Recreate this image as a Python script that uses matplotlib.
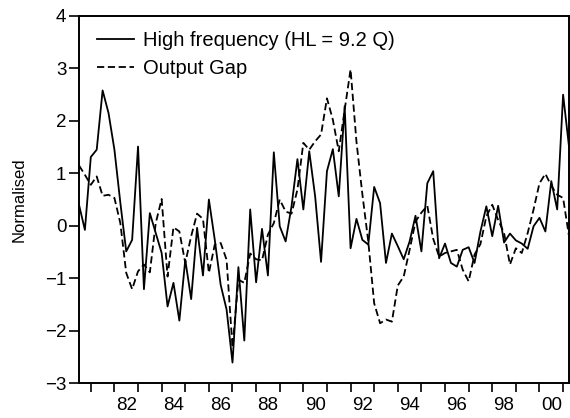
import numpy as np
import matplotlib
matplotlib.use("Agg")
import matplotlib.pyplot as plt
from matplotlib.ticker import FixedLocator, NullFormatter

plt.rcParams['font.family'] = ['Liberation Sans', 'DejaVu Sans']

# quarterly sample, 1980Q3 - 2001Q2
start_year = 1980.5
n_obs = 84

high_freq = [0.40, -0.08, 1.31, 1.45, 2.58, 2.15, 1.45, 0.44, -0.49, -0.27,
             1.51, -1.21, 0.24, -0.14, -0.52, -1.54, -1.09, -1.81, -0.65, -1.40,
             -0.04, -0.95, 0.50, -0.27, -1.13, -1.60, -2.61, -0.79, -2.19, 0.31,
             -1.08, -0.06, -0.95, 1.40, -0.01, -0.30, 0.37, 1.27, 0.31, 1.42,
             0.56, -0.69, 1.04, 1.46, 0.56, 2.28, -0.43, 0.13, -0.27, -0.36,
             0.74, 0.43, -0.71, -0.15, -0.39, -0.64, -0.30, 0.19, -0.49, 0.81,
             1.04, -0.62, -0.34, -0.71, -0.78, -0.46, -0.41, -0.71, -0.11, 0.37,
             -0.20, 0.38, -0.32, -0.15, -0.28, -0.34, -0.44, -0.01, 0.15, -0.11,
             0.85, 0.31, 2.50, 1.51]

output_gap = [1.15, 0.97, 0.78, 0.94, 0.57, 0.59, 0.53, 0.05, -0.90, -1.21,
              -0.87, -0.74, -0.89, 0.05, 0.51, -0.97, -0.03, -0.11, -0.71, -0.20,
              0.23, 0.13, -0.90, -0.36, -0.33, -0.65, -2.32, -1.03, -1.09, -0.53,
              -0.64, -0.66, -0.17, 0.05, 0.50, 0.27, 0.23, 0.69, 1.58, 1.45,
              1.61, 1.74, 2.43, 2.02, 1.42, 2.21, 2.98, 1.60, 0.60, -0.30,
              -1.48, -1.86, -1.79, -1.83, -1.14, -0.97, -0.46, 0.08, 0.25, 0.38,
              -0.25, -0.59, -0.52, -0.49, -0.46, -0.84, -1.06, -0.55, -0.35, 0.18,
              0.40, 0.11, -0.14, -0.74, -0.43, -0.52, -0.14, 0.31, 0.81, 0.99,
              0.76, 0.59, 0.53, -0.20]

year_ticks = list(range(1981, 2002))
label_years = list(range(1982, 2001, 2))
year_labels = ['%02d' % (y % 100) for y in label_years]

t = start_year + 0.25 * np.arange(n_obs)

fig = plt.figure(figsize=(5.7, 4.18), dpi=100)
ax = fig.add_axes([79 / 570, 1 - 383 / 418, 490 / 570, 367 / 418])

ax.plot(t, high_freq, color='black', lw=1.3, label='High frequency (HL = 9.2 Q)')
ax.plot(t, output_gap, color='black', lw=1.3, dashes=(4.0, 2.0), label='Output Gap')

ax.set_xlim(t[0], t[-1])
ax.set_ylim(-3, 4)
ax.set_yticks(range(-3, 5))

# ticks at each year, labels centred in the year
ax.xaxis.set_major_locator(FixedLocator(year_ticks))
ax.xaxis.set_major_formatter(NullFormatter())
ax.xaxis.set_minor_locator(FixedLocator([y + 0.5 for y in label_years]))
ax.set_xticklabels(year_labels, minor=True)
ax.tick_params(axis='x', which='major', direction='out', length=6.5, width=1.2)
ax.tick_params(axis='x', which='minor', length=0, pad=10, labelsize=13.5)
ax.tick_params(axis='y', direction='out', length=7, width=1.2, labelsize=13.5, pad=2)

for s in ax.spines.values():
    s.set_linewidth(1.4)

ax.set_ylabel('Normalised', fontsize=12, labelpad=13)

leg = ax.legend(loc='upper left', bbox_to_anchor=(18 / 490, 1 - 15 / 367),
                frameon=False, fontsize=14.5, handlelength=1.85, handletextpad=0.45,
                labelspacing=0.45, borderaxespad=0, borderpad=0)

fig.savefig('out.png', dpi=100)
